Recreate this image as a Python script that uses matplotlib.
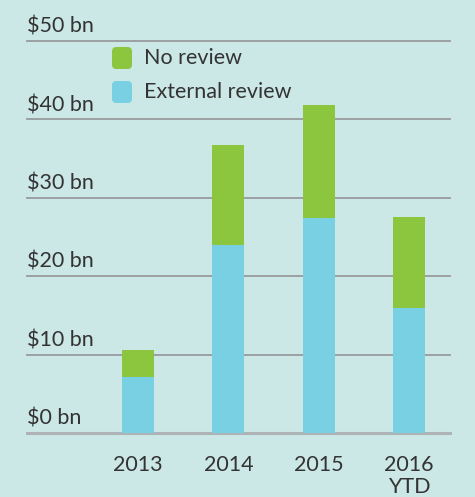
import matplotlib.pyplot as plt
from matplotlib.patches import FancyBboxPatch

years = ["2013", "2014", "2015", "2016\nYTD"]
external_review = [7.1, 24.0, 27.4, 15.9]
no_review = [3.5, 12.7, 14.5, 11.6]
y_ticks = [0, 10, 20, 30, 40, 50]
y_labels = ["$0 bn", "$10 bn", "$20 bn", "$30 bn", "$40 bn", "$50 bn"]

BG = "#cbe8e6"
BLUE = "#79d0e3"
GREEN = "#8cc63f"
TEXT = "#333333"
FS = 15.5

plt.rcParams["font.family"] = ["Lato", "DejaVu Sans"]

W, H = 475, 497
fig = plt.figure(figsize=(W / 100, H / 100), dpi=100, facecolor=BG)
# axes placed in pixel terms: gridlines span x 27..450, y 0 at 433, 50 at 41
ax = fig.add_axes([27 / W, (H - 433) / H, (450 - 27) / W, (433 - 41) / H])
ax.set_facecolor(BG)

x = list(range(len(years)))
ax.set_xlim(-1.23, 3.455)
ax.set_ylim(0, 50)

for t in y_ticks:
    if t == 0:
        ax.axhline(t, color="#aeb3b6", lw=2.2, clip_on=False, zorder=1)
    else:
        ax.axhline(t, color="#979b9d", lw=1.3, clip_on=False, zorder=1)

ax.bar(x, external_review, width=0.354, color=BLUE, zorder=2)
ax.bar(x, no_review, width=0.354, bottom=external_review, color=GREEN, zorder=2)

for t, lab in zip(y_ticks, y_labels):
    ax.annotate(lab, xy=(-1.23, t), xytext=(0, 6), textcoords="offset points",
                ha="left", va="baseline", fontsize=FS, color=TEXT)

ax.set_xticks(x)
ax.set_xticklabels(years, fontsize=FS, color=TEXT, linespacing=1.12)
ax.tick_params(axis="x", length=0, pad=16)
ax.set_yticks([])
for s in ax.spines.values():
    s.set_visible(False)

# legend drawn by hand: rounded squares + labels
legend_items = [("No review", GREEN, 58), ("External review", BLUE, 92)]
for name, col, yc in legend_items:
    box = FancyBboxPatch((112 / W, (H - yc - 11) / H), 20 / W, 22 / H,
                         boxstyle="round,pad=0,rounding_size=0.009",
                         transform=fig.transFigure, facecolor=col,
                         edgecolor="none")
    fig.patches.append(box)
    fig.text(144 / W, (H - yc) / H, name, fontsize=FS, color=TEXT,
             ha="left", va="center")

fig.savefig("out.png", dpi=100, facecolor=BG)
